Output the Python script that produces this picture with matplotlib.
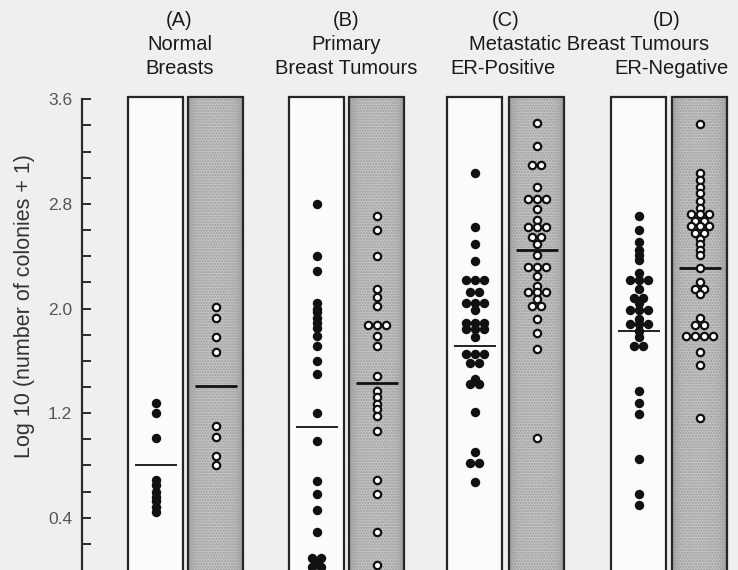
import numpy as np
import matplotlib
matplotlib.use('Agg')
import matplotlib.pyplot as plt
from matplotlib.patches import Rectangle

# log10(colonies + 1) per tumour
# white columns = filled dots, stippled columns = open circles
A_WHITE = [1.28, 1.20, 1.01, 0.69, 0.65, 0.60, 0.56, 0.53, 0.48, 0.44]
A_GRAY = [2.01, 1.93, 1.78, 1.67, 1.10, 1.02, 0.87, 0.80]
B_WHITE = [2.80, 2.40, 2.29, 2.04, 2.00, 1.97, 1.93, 1.89, 1.85, 1.79, 1.71,
           1.60, 1.50, 1.20, 0.99, 0.68, 0.58, 0.46, 0.29,
           0.09, 0.09, 0.055, 0.02, 0.02]
B_GRAY = [2.71, 2.60, 2.40, 2.15, 2.09, 2.02, 1.87, 1.87, 1.87, 1.79, 1.71,
          1.48, 1.37, 1.32, 1.27, 1.23, 1.18, 1.06, 0.69, 0.58, 0.29, 0.04]
C_WHITE = [3.04, 2.62, 2.49, 2.36, 2.22, 2.22, 2.22, 2.13, 2.13,
           2.04, 2.04, 2.04, 1.99, 1.89, 1.89, 1.89, 1.84, 1.84, 1.84, 1.78,
           1.65, 1.65, 1.65, 1.58, 1.58, 1.46, 1.42, 1.42, 1.21, 0.90,
           0.82, 0.82, 0.67]
C_GRAY = [3.42, 3.24, 3.10, 3.10, 2.93, 2.84, 2.84, 2.84, 2.76, 2.68,
          2.62, 2.62, 2.62, 2.55, 2.55, 2.49, 2.41, 2.32, 2.32, 2.32, 2.25,
          2.17, 2.13, 2.13, 2.13, 2.07, 2.02, 2.02, 1.92, 1.81, 1.69, 1.01]
D_WHITE = [2.71, 2.60, 2.51, 2.45, 2.41, 2.37, 2.27, 2.22, 2.22, 2.22,
           2.15, 2.08, 2.08, 2.04, 1.99, 1.99, 1.99, 1.92, 1.88, 1.88, 1.88,
           1.83, 1.78, 1.71, 1.71, 1.37, 1.28, 1.19, 0.85, 0.58, 0.50]
D_GRAY = [3.41, 3.04, 2.98, 2.93, 2.88, 2.82, 2.77, 2.72, 2.72, 2.72,
          2.67, 2.67, 2.63, 2.63, 2.63, 2.58, 2.58, 2.53, 2.49, 2.45, 2.41,
          2.31, 2.20, 2.15, 2.15, 2.11, 1.93, 1.87, 1.87,
          1.79, 1.79, 1.79, 1.79, 1.67, 1.57, 1.16]

# group mean bars as drawn in the figure
MEAN_LEVELS = [0.80, 1.405, 1.095, 1.43, 1.71, 2.45, 1.83, 2.31]

PANEL_LETTERS = ['(A)', '(B)', '(C)', '(D)']
PANEL_TITLES = [['Normal', 'Breasts'], ['Primary', 'Breast Tumours'],
                ['ER-Positive'], ['ER-Negative']]
Y_LABELLED = [0.4, 1.2, 2.0, 2.8, 3.6]

COLUMNS = [A_WHITE, A_GRAY, B_WHITE, B_GRAY, C_WHITE, C_GRAY, D_WHITE, D_GRAY]

# layout (pixels of the 738x570 canvas)
W, H = 738, 570
COL_LEFT = [128, 188, 289, 349, 447, 509, 611, 672]
COL_W = 55
DOT_STEP = 9.0
BAR_HALF = 21
BG = '#efefef'


def row_offsets(vals):
    """spread equal values sideways, centred on the column"""
    vals = np.asarray(vals)
    off = np.zeros(len(vals))
    for v in np.unique(vals):
        idx = np.where(vals == v)[0]
        n = len(idx)
        off[idx] = (np.arange(n) - (n - 1) / 2) * DOT_STEP
    return off


fig = plt.figure(figsize=(W / 100, H / 100), dpi=100, facecolor=BG)
top_px = 99.3
ax = fig.add_axes([82 / W, 0, (W - 82) / W, (H - top_px) / H])
ax.set_facecolor(BG)
ax.set_xlim(82, W)
ax.set_ylim(0, 3.6)

# stippled column shading: darker towards the edges
prof = np.linspace(-1, 1, 60)
shade = 0.77 - 0.15 * np.abs(prof) ** 5
shade_img = np.tile(shade, (40, 1))

for i, vals in enumerate(COLUMNS):
    x0 = COL_LEFT[i]
    xc = x0 + COL_W / 2
    gray = i % 2 == 1
    if gray:
        ax.imshow(shade_img, cmap='gray', vmin=0, vmax=1, aspect='auto',
                  extent=(x0, x0 + COL_W, -0.2, 3.62), clip_on=False,
                  interpolation='bilinear', zorder=1)
        ax.add_patch(Rectangle((x0, -0.2), COL_W, 3.82, fill=False,
                               hatch='......', edgecolor='#9c9c9c', lw=0,
                               clip_on=False, zorder=1.5))
    else:
        ax.add_patch(Rectangle((x0, -0.2), COL_W, 3.82, facecolor='#fbfbfb',
                               lw=0, clip_on=False, zorder=1))
    ax.add_patch(Rectangle((x0, -0.2), COL_W, 3.82, fill=False,
                           edgecolor='#262626', lw=1.6, clip_on=False, zorder=2))

    xs = xc + row_offsets(vals)
    if gray:
        ax.plot(xs, vals, 'o', ms=5.3, mfc='white', mec='#111111', mew=1.6,
                ls='none', clip_on=False, zorder=4)
        lw = 2.0
    else:
        ax.plot(xs, vals, 'o', ms=6.8, mfc='#111111', mec='#111111', mew=0,
                ls='none', clip_on=False, zorder=4)
        lw = 1.3
    ax.plot([xc - BAR_HALF, xc + BAR_HALF], [MEAN_LEVELS[i]] * 2,
            color='#111111', lw=lw, zorder=3, solid_capstyle='butt')

# axis
for s in ['top', 'right', 'bottom']:
    ax.spines[s].set_visible(False)
ax.spines['left'].set_linewidth(1.6)
ax.spines['left'].set_color('#2a2a2a')
ax.set_xticks([])
ax.set_yticks(Y_LABELLED)
ax.set_yticklabels([f'{v:.1f}' for v in Y_LABELLED])
ax.set_yticks(np.arange(0.2, 3.61, 0.2), minor=True)
ax.tick_params(axis='y', which='both', direction='in', length=6.5, width=1.4,
               color='#2a2a2a')
ax.tick_params(axis='y', which='major', pad=7, labelsize=12.5, labelcolor='#555555')
for lab in ax.get_yticklabels():
    lab.set_family('Liberation Sans')

fig.text(25 / W, 1 - 306 / H, 'Log 10 (number of colonies + 1)', rotation=90,
         ha='center', va='center', fontsize=15.5, color='#333333',
         family='Liberation Sans')

# panel headings
txt = dict(ha='center', va='center', fontsize=14.5, color='#1a1a1a',
           family='Liberation Sans')
letter_x = [179, 346, 506, 667]
for lx, letter in zip(letter_x, PANEL_LETTERS):
    fig.text(lx / W, 1 - 21 / H, letter, **txt)
fig.text(180 / W, 1 - 45 / H, PANEL_TITLES[0][0], **txt)
fig.text(180 / W, 1 - 69 / H, PANEL_TITLES[0][1], **txt)
fig.text(346 / W, 1 - 45 / H, PANEL_TITLES[1][0], **txt)
fig.text(346 / W, 1 - 69 / H, PANEL_TITLES[1][1], **txt)
fig.text(589 / W, 1 - 45 / H, 'Metastatic Breast Tumours', **txt)
fig.text(503 / W, 1 - 69 / H, PANEL_TITLES[2][0], **txt)
fig.text(671 / W, 1 - 69 / H, PANEL_TITLES[3][0], **txt)

fig.savefig('out.png', dpi=100, facecolor=BG)
